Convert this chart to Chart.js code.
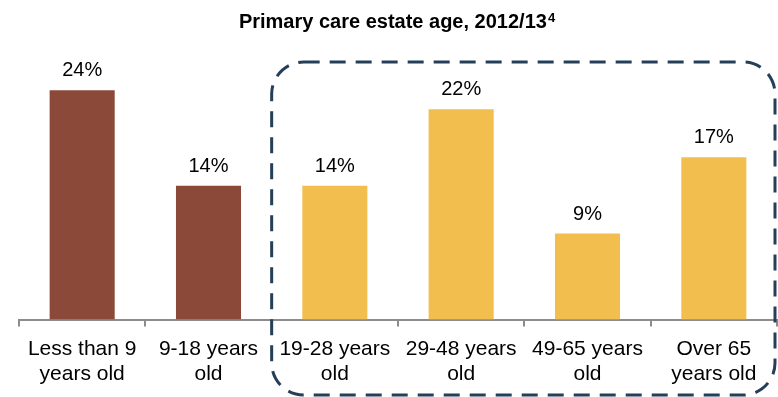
<!DOCTYPE html>
<html>
<head>
<meta charset="utf-8">
<script src="https://cdn.jsdelivr.net/npm/chart.js@4/dist/chart.umd.min.js"></script>
<style>
  html, body { margin: 0; padding: 0; background: #fff; }
  #wrap { width: 778px; height: 397px; position: relative; }
</style>
</head>
<body>
<div id="wrap"><canvas id="estateChart" width="778" height="397"></canvas></div>
<script>
// Estate age bands and share of primary care estate (%)
const ageBands = [
    ['Less than 9', 'years old'],
    ['9-18 years', 'old'],
    ['19-28 years', 'old'],
    ['29-48 years', 'old'],
    ['49-65 years', 'old'],
    ['Over 65', 'years old']
];
const estateShare = [24, 14, 14, 22, 9, 17];
const barColors = ['#8B4A39', '#8B4A39', '#F2BF4F', '#F2BF4F', '#F2BF4F', '#F2BF4F'];

const FONT = '"Liberation Sans", Arial, sans-serif';

// Title with superscript footnote marker
const titlePlugin = {
    id: 'titleSup',
    afterDraw(chart) {
        const ctx = chart.ctx;
        const main = 'Primary care estate age, 2012/13';
        const sup = '4';
        ctx.save();
        ctx.fillStyle = '#000';
        ctx.textBaseline = 'alphabetic';
        ctx.textAlign = 'left';
        ctx.font = 'bold 20px ' + FONT;
        const w1 = ctx.measureText(main).width;
        ctx.font = 'bold 13px ' + FONT;
        const w2 = ctx.measureText(sup).width;
        const x0 = 397 - (w1 + w2 + 1) / 2;
        ctx.font = 'bold 20px ' + FONT;
        ctx.fillText(main, x0, 28);
        ctx.font = 'bold 13px ' + FONT;
        ctx.fillText(sup, x0 + w1 + 1, 22);
        ctx.restore();
    }
};

// Percent labels above each bar
const valueLabels = {
    id: 'valueLabels',
    afterDatasetsDraw(chart) {
        const ctx = chart.ctx;
        const meta = chart.getDatasetMeta(0);
        ctx.save();
        ctx.font = '20px ' + FONT;
        ctx.fillStyle = '#000';
        ctx.textAlign = 'center';
        ctx.textBaseline = 'alphabetic';
        meta.data.forEach((bar, i) => {
            ctx.fillText(estateShare[i] + '%', bar.x, bar.y - 14);
        });
        ctx.restore();
    }
};

// Dashed rounded frame around the older age bands
const groupFrame = {
    id: 'groupFrame',
    afterDraw(chart) {
        const ctx = chart.ctx;
        const xs = chart.scales.x;
        const step = xs.getPixelForValue(1) - xs.getPixelForValue(0);
        const left = xs.getPixelForValue(2) - step / 2;
        const right = chart.width - 3;
        const top = 62, bottom = 395, r = 32;
        ctx.save();
        ctx.strokeStyle = '#253F59';
        ctx.lineWidth = 3;
        ctx.setLineDash([16, 10]);
        ctx.beginPath();
        ctx.moveTo(left + r, top);
        ctx.lineTo(right - r, top);
        ctx.arcTo(right, top, right, top + r, r);
        ctx.lineTo(right, bottom - r);
        ctx.arcTo(right, bottom, right - r, bottom, r);
        ctx.lineTo(left + r, bottom);
        ctx.arcTo(left, bottom, left, bottom - r, r);
        ctx.lineTo(left, top + r);
        ctx.arcTo(left, top, left + r, top, r);
        ctx.stroke();
        ctx.restore();
    }
};

new Chart(document.getElementById('estateChart'), {
    type: 'bar',
    data: {
        labels: ageBands,
        datasets: [{
            data: estateShare,
            backgroundColor: barColors,
            borderWidth: 0,
            categoryPercentage: 1,
            barPercentage: 0.515
        }]
    },
    options: {
        responsive: false,
        animation: false,
        layout: { padding: { left: 19, right: 1, top: 52, bottom: 0 } },
        scales: {
            x: {
                grid: {
                    offset: true,
                    drawOnChartArea: false,
                    drawTicks: true,
                    tickLength: 7,
                    color: '#8C8C8C',
                    lineWidth: 2
                },
                border: { color: '#8C8C8C', width: 2 },
                ticks: {
                    color: '#000',
                    font: { family: FONT, size: 21, lineHeight: 1.2 },
                    padding: 10,
                    maxRotation: 0,
                    autoSkip: false
                }
            },
            y: {
                display: false,
                min: 0,
                max: 28
            }
        },
        plugins: {
            legend: { display: false },
            tooltip: { enabled: false }
        }
    },
    plugins: [titlePlugin, valueLabels, groupFrame]
});
</script>
</body>
</html>
